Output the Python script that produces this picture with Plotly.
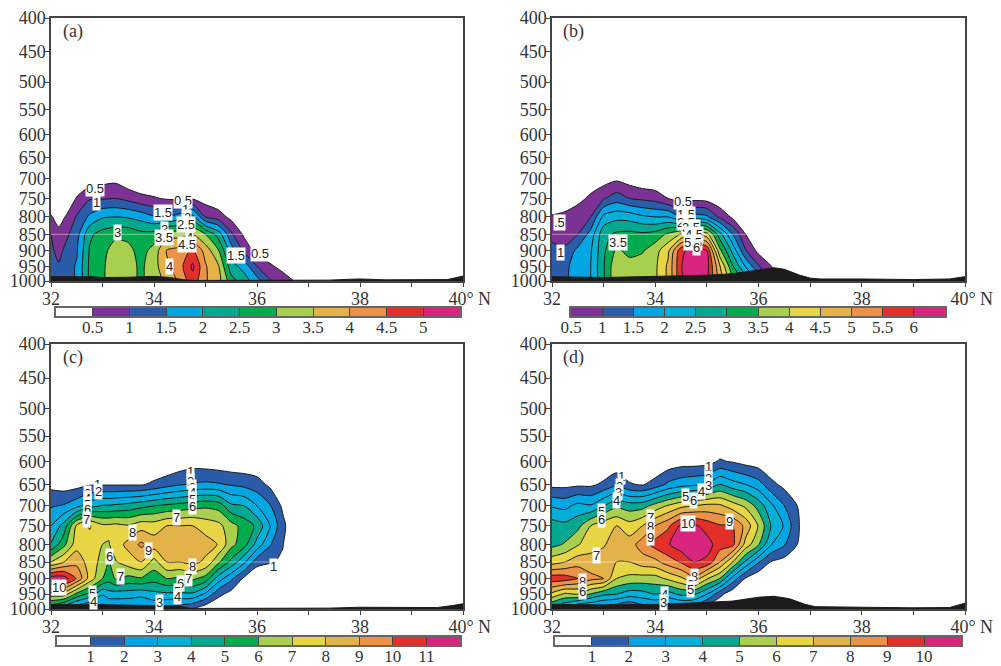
import numpy as np
import plotly.graph_objects as go

P_LEVELS = [1000, 950, 900, 850, 800, 750, 700, 650, 600, 550, 500, 450, 400]
Y_TICKS = [400, 450, 500, 550, 600, 650, 700, 750, 800, 850, 900, 950, 1000]
X_TICKS = [32, 33, 34, 35, 36, 37, 38, 39, 40]
X_TICK_TEXT = ["32", "", "34", "", "36", "", "38", "", "\u00a0\u00a0\u00a040° N"]

WHITE, PURPLE, BLUE, SKY, CYAN, TEAL, GREEN = "#ffffff", "#7b3294", "#2a5caa", "#00a6e4", "#00b0d8", "#00a88f", "#00ab4e"
LIME, YELLOW, GOLD, ORANGE, RED, MAGENTA = "#a8d04e", "#e8d545", "#e3b34a", "#ec9146", "#e32f2a", "#d9257e"

# ---- panel (a)
LON_A = [32, 32.15, 32.3, 32.5, 32.75, 33, 33.25, 33.5, 33.75, 34, 34.25, 34.5, 34.75, 35, 35.25, 35.5, 35.75, 36, 36.25, 36.5, 36.75, 37, 40]
COLS_A = [
    [1.2, 1.2, 1.1, 1.0, .55, .1], [1.2, 1.05, .85, .65, .3, 0], [1.3, 1.3, 1.15, .9, .55, .1],
    [1.55, 1.55, 1.45, 1.3, 1.05, .55], [2.6, 2.6, 2.55, 2.4, 1.6, .95, .2], [2.9, 2.9, 2.8, 2.7, 1.95, .95, .3],
    [3.4, 3.4, 3.3, 2.85, 2.0, 1.0, .35], [3.2, 3.2, 3.15, 2.85, 1.95, .85, .1], [2.9, 2.9, 2.8, 2.65, 1.8, .65],
    [3.3, 3.3, 3.2, 2.7, 1.55, .55], [3.6, 3.9, 4.05, 3.3, 1.5, .45], [4.1, 4.3, 4.2, 3.3, 1.75, .4],
    [4.8, 5.1, 4.6, 3.5, 2.2, .45], [4.05, 4.05, 3.8, 3.0, 1.0, .25], [3.7, 3.55, 3.05, 2.3, .75, .1],
    [2.7, 2.2, 1.75, 1.1, .35], [2.25, 1.8, .9, .4], [1.7, 1.0, .3], [1.05, .6, .1], [.8, .3], [.45], [0], [0],
]
COLORS_A = [WHITE, PURPLE, BLUE, SKY, TEAL, GREEN, LIME, GOLD, ORANGE, RED, MAGENTA]
TERRAIN_LON_A = [32, 32.8, 33, 33.5, 34, 34.3, 34.6, 34.8, 37.2, 37.4, 37.8, 38, 38.5, 39.3, 39.7, 39.9, 40]
TERRAIN_P_A = [985, 985, 988, 987, 984, 988, 996, 998, 998, 997, 994, 993, 996, 997, 995, 987, 983]
LABELS_A = [("0.5", 32.85, 725), ("1", 32.88, 760), ("1.5", 34.18, 788), ("0.5", 34.57, 755), ("1", 34.62, 780),
            ("2", 34.66, 802), ("2.5", 34.62, 820), ("3", 34.2, 835), ("3.5", 34.2, 860), ("4", 34.69, 860),
            ("4.5", 34.65, 880), ("3", 33.3, 845), ("4", 34.3, 950), ("1.5", 35.6, 915), ("0.5", 36.06, 910)]
FAINT_A = [32, 35.75]

# ---- panel (b)
LON_B = [32, 32.25, 32.5, 32.75, 33, 33.25, 33.5, 33.75, 34, 34.25, 34.5, 34.75, 35, 35.25, 35.5, 35.75, 36, 36.25, 36.5, 37, 40]
COLS_B = [
    [1.2, 1.2, 1.1, .9, .55, .1], [1.4, 1.35, 1.1, .8, .6, .25], [1.8, 1.8, 1.65, 1.0, .8, .35],
    [2.0, 2.0, 1.95, 1.7, 1.0, .6, .2], [2.95, 2.95, 2.9, 2.85, 2.15, .95, .25], [3.9, 3.9, 3.6, 3.1, 2.35, 1.25, .4],
    [3.8, 3.7, 3.35, 3.15, 2.3, 1.0, .25], [3.8, 3.75, 3.45, 3.1, 2.1, .9, .1], [3.9, 3.9, 3.8, 3.2, 2.0, .8, .05],
    [4.6, 4.6, 4.4, 3.6, 2.0, .5], [5.9, 5.95, 5.85, 4.05, 1.5, .3], [6.5, 6.7, 6.3, 4.5, 1.7, .35],
    [6.1, 6.2, 6.0, 4.2, 1.6, .3], [4.8, 4.55, 3.65, 2.7, .9, .1], [3.6, 3.05, 2.35, 1.5, .4], [2.9, 1.95, 1.05, .5, .15],
    [2.0, 1.05, .35], [1.0, .5, .1], [.2], [0], [0],
]
COLORS_B = [WHITE, PURPLE, BLUE, SKY, CYAN, TEAL, GREEN, LIME, YELLOW, GOLD, ORANGE, RED, MAGENTA]
TERRAIN_LON_B = [32, 33, 33.5, 34, 34.5, 35, 35.5, 36, 36.3, 36.5, 36.8, 37, 37.2, 38, 39, 39.7, 40]
TERRAIN_P_B = [985, 988, 986, 985, 983, 980, 975, 962, 955, 960, 980, 990, 993, 993, 995, 993, 985]
LABELS_B = [(".5", 32.15, 815), ("1", 32.16, 905), ("3.5", 33.28, 875), ("0.5", 34.54, 758), ("1.5", 34.6, 792),
            ("2.5", 34.6, 815), ("3.5", 34.7, 830), ("4.5", 34.76, 850), ("5.5", 34.73, 873), ("6", 34.8, 890)]
FAINT_B = [32, 35.75]

# ---- panel (c)
LON_C = [32, 32.25, 32.5, 32.75, 33, 33.125, 33.25, 33.5, 33.75, 34, 34.25, 34.5, 34.75, 35, 35.25, 35.5, 35.75, 36, 36.25, 36.5, 36.75, 40]
COLS_C = [
    [4, 7.5, 11.6, 7, 4.1, 3, 1.9, .7], [3, 7.5, 11.5, 8, 5.7, 4.4, 2.1, .5], [2, 5.7, 9.9, 8.7, 7.6, 7.2, 2.7, .6],
    [1.5, 4.7, 7.6, 7.5, 7.6, 8.1, 3.6, .9], [1.5, 3.1, 6.0, 6.7, 7.0, 7.2, 4.1, .9], [1.6, 3.6, 5.4, 5.9, 6.95, 7.2, 4.1, .9],
    [1.9, 3.5, 6.1, 6.9, 7.5, 7.3, 4.2, .9], [1.8, 3.5, 5.7, 7.5, 8.3, 7.1, 4.4, .9], [1.8, 3.3, 5.9, 8.0, 9.2, 7.6, 4.7, .9],
    [2, 3.7, 5.4, 6.6, 8.5, 7.5, 5, 1.2], [1.6, 3.8, 6, 8, 8.7, 8, 5.2, 1.6], [1.3, 3.8, 5.8, 8, 8.8, 8, 5.4, 1.9, .3],
    [.9, 3.8, 6.2, 8.3, 8.8, 8, 5.6, 2.1, .5], [.3, 2.8, 5.6, 7.8, 8.4, 7.6, 5.8, 2.2, .4], [0, 1.3, 3.5, 6.2, 7.95, 7.3, 5.6, 2.1, .3],
    [0, .6, 2.2, 4.7, 6.3, 6.4, 4.2, 1.9, .2], [0, 0, .8, 3.2, 5.4, 5.6, 4, 1.7, .2], [0, 0, 0, 1.4, 3.6, 4.8, 3, 1.4, .2],
    [0, 0, 0, 1.1, 2.1, 3, 2.1, .8], [0, 0, 0, .85, 1.05, 1.3, .8], [0], [0],
]
COLORS_C = [WHITE, BLUE, SKY, CYAN, TEAL, GREEN, LIME, YELLOW, GOLD, ORANGE, RED, MAGENTA]
TERRAIN_LON_C = [32, 33, 34, 34.5, 34.7, 37.2, 37.4, 38, 39, 39.5, 39.8, 40]
TERRAIN_P_C = [985, 985, 987, 990, 998, 998, 997, 994, 995, 995, 988, 982]
LABELS_C = [("1", 34.7, 622), ("2", 34.7, 643), ("3", 34.75, 658), ("4", 34.75, 668), ("5", 34.75, 684), ("6", 34.75, 702),
            ("1", 32.9, 650), ("2", 32.93, 667), ("3", 32.7, 670), ("4", 32.7, 682), ("5", 32.7, 696), ("6", 32.7, 708),
            ("7", 32.68, 733), ("7", 34.44, 730), ("8", 33.59, 767), ("9", 33.89, 817), ("6", 33.13, 833), ("7", 33.35, 893),
            ("8", 34.74, 864), ("7", 34.67, 900), ("6", 34.52, 915), ("5", 34.45, 940), ("4", 34.45, 957), ("10", 32.16, 928),
            ("5", 32.8, 947), ("4", 32.82, 975), ("3", 34.1, 978), ("1", 36.32, 862)]
FAINT_C = [32, 36.25]

# ---- panel (d)
LON_D = [32, 32.25, 32.5, 32.75, 33, 33.25, 33.5, 33.75, 34, 34.25, 34.5, 34.75, 35, 35.25, 35.5, 35.75, 36, 36.25, 36.5, 36.75, 37, 40]
COLS_D = [
    [3.5, 6.7, 9.6, 6.6, 4.7, 4.5, 2.9, .7], [2.7, 5.8, 9.5, 7, 5.1, 4.3, 2.7, .7], [1.5, 6, 9.0, 7.6, 5.9, 4.7, 3.3, .8],
    [1.5, 4.9, 8.3, 7.4, 6.6, 6, 3.1, .8], [1.3, 4.2, 8.0, 7.5, 6.9, 6.6, 4, 1.2], [1, 4, 6, 7, 7.5, 7, 4.8, 1.8, .2],
    [.5, 3.5, 5.7, 7, 7.5, 6.4, 4.5, 1.1], [1.3, 3.6, 5.6, 7.5, 8.5, 7, 4.6, .9], [1.4, 4, 5.6, 7.7, 9.4, 8, 5.4, 1.4],
    [1.2, 3.6, 6.2, 8.5, 9.9, 8.8, 6.1, 2.2, .3], [1.3, 4.2, 6.8, 9.1, 10.6, 10.2, 6.7, 2.6, .5], [1.2, 4.1, 7.7, 10, 10.9, 10.2, 7, 2.8, .5],
    [.3, 3, 6.1, 9.8, 10.4, 9.6, 7.3, 3, .6], [0, 1.3, 5, 8, 9.5, 9.1, 7.2, 4, 1.1], [0, .3, 2.6, 6, 9.3, 9, 6.5, 3.4, .9],
    [0, 0, .9, 3.8, 6.6, 7.7, 5.8, 3, .6], [0, 0, .2, 2.1, 5.1, 5.9, 4.6, 2.4, .4], [0, 0, 0, .9, 3, 3.9, 3.2, 1.3],
    [0, 0, 0, .6, 2.1, 2.9, 2, .7], [0, 0, 0, .2, 1, 1.2, 1], [0], [0],
]
COLORS_D = [WHITE, BLUE, SKY, CYAN, TEAL, LIME, YELLOW, GOLD, ORANGE, RED, MAGENTA]
TERRAIN_LON_D = [32, 33, 33.5, 34, 34.5, 35, 35.5, 36, 36.3, 36.6, 36.9, 37.1, 38, 39, 39.7, 40]
TERRAIN_P_D = [984, 986, 986, 984, 981, 977, 973, 960, 957, 965, 984, 992, 995, 996, 995, 980]
LABELS_D = [("1", 35.03, 612), ("2", 35.03, 637), ("3", 35.03, 652), ("4", 34.89, 667), ("5", 34.58, 677), ("6", 34.75, 688),
            ("1", 33.35, 632), ("2", 33.3, 654), ("3", 33.29, 668), ("4", 33.24, 688), ("5", 32.95, 713), ("6", 32.95, 735),
            ("7", 33.9, 730), ("8", 33.9, 751), ("9", 33.9, 782), ("10", 34.63, 745), ("9", 35.43, 738), ("7", 32.87, 830),
            ("8", 34.76, 895), ("8", 32.6, 910), ("6", 32.6, 940), ("6", 34.68, 920), ("5", 34.68, 935), ("4", 34.18, 952), ("3", 34.16, 977)]
FAINT_D = [32, 35.3]

FONT = "Liberation Serif"
OFF = 8  # the page body margin shifts the figure by this many pixels
W, H = 1001 - OFF, 666 - OFF
PANELS = [
    dict(tag="(a)", lon=LON_A, cols=COLS_A, colors=COLORS_A, start=.5, size=.5, tlon=TERRAIN_LON_A, tp=TERRAIN_P_A, labels=LABELS_A, faint=FAINT_A,
         box=(51, 463, 18, 281), bar=(56, 460, 308, 316), skip_white=False),
    dict(tag="(b)", lon=LON_B, cols=COLS_B, colors=COLORS_B, start=.5, size=.5, tlon=TERRAIN_LON_B, tp=TERRAIN_P_B, labels=LABELS_B, faint=FAINT_B,
         box=(552, 965, 18, 281), bar=(571, 945, 308, 316), skip_white=True),
    dict(tag="(c)", lon=LON_C, cols=COLS_C, colors=COLORS_C, start=1, size=1, tlon=TERRAIN_LON_C, tp=TERRAIN_P_C, labels=LABELS_C, faint=FAINT_C,
         box=(51, 463, 344, 609), bar=(57, 460, 637, 645), skip_white=False),
    dict(tag="(d)", lon=LON_D, cols=COLS_D, colors=COLORS_D, start=1, size=1, tlon=TERRAIN_LON_D, tp=TERRAIN_P_D, labels=LABELS_D, faint=FAINT_D,
         box=(552, 965, 344, 609), bar=(555, 961, 637, 645), skip_white=False),
]

fig = go.Figure()
layout = dict(width=W, height=H, margin=dict(l=0, r=0, t=0, b=0, autoexpand=False), paper_bgcolor="white", plot_bgcolor="white",
              showlegend=False, font=dict(family=FONT, size=18, color="#333333"), annotations=[], template="none")


def ref(letter, num):
    return letter if num == 1 else f"{letter}{num}"


def xdom(a, b):
    return [(a - OFF) / W, (b - OFF) / W]


def ydom(top, bottom):
    return [1 - (bottom - OFF) / H, 1 - (top - OFF) / H]


for i, p in enumerate(PANELS):
    ax = 2 * i + 1
    bx = 2 * i + 2
    xa, ya = ref("x", ax), ref("y", ax)
    xb, yb = ref("x", bx), ref("y", bx)
    n = len(p["colors"])
    scale = [[k / (n - 1), c] for k, c in enumerate(p["colors"])]
    start, size = p["start"], p["size"]
    end = start + (n - 2) * size

    grid = np.zeros((len(P_LEVELS), len(p["lon"])))
    for j, col in enumerate(p["cols"]):
        grid[: len(col), j] = col

    fig.add_trace(go.Contour(x=p["lon"], y=P_LEVELS, z=grid, xaxis=xa, yaxis=ya, colorscale=scale, showscale=False,
                             autocontour=False, contours=dict(start=start, end=end, size=size, coloring="fill"),
                             line=dict(color="#1a1a1a", width=1, smoothing=0.7), hoverinfo="skip"))
    fig.add_trace(go.Scatter(x=p["faint"], y=[850, 850], xaxis=xa, yaxis=ya, mode="lines",
                             line=dict(color="rgba(255,255,255,0.45)", width=1), hoverinfo="skip"))
    fig.add_trace(go.Scatter(x=[p["tlon"][0]] + p["tlon"] + [p["tlon"][-1]], y=[1000] + p["tp"] + [1000], xaxis=xa, yaxis=ya,
                             mode="lines", fill="toself", fillcolor="#1c1a1b", line=dict(color="#1c1a1b", width=1), hoverinfo="skip"))

    l, r, t, b = p["box"]
    layout[f"xaxis{ax}"] = dict(domain=xdom(l, r), range=[32, 40], anchor=ya, tickvals=X_TICKS, ticktext=X_TICK_TEXT, automargin=False,
                                ticks="outside", ticklen=4, ticklabelstandoff=-3, tickcolor="#444444", showline=True, linecolor="#444444", linewidth=1.5,
                                mirror=True, showgrid=False, zeroline=False, tickfont=dict(family=FONT, size=18, color="#333333"))
    layout[f"yaxis{ax}"] = dict(domain=ydom(t, b), type="log", range=[3, float(np.log10(400))], anchor=xa, automargin=False,
                                tickvals=Y_TICKS, ticktext=[str(v) for v in Y_TICKS], ticks="outside", ticklen=4, ticklabelstandoff=-4, tickcolor="#444444",
                                showline=True, linecolor="#444444", linewidth=1.5, mirror=True, showgrid=False, zeroline=False,
                                tickfont=dict(family=FONT, size=18, color="#333333"))

    first = 1 if p["skip_white"] else 0
    edges = [start - size + k * size for k in range(first, n + 1)]
    mids = [(edges[k] + edges[k + 1]) / 2 for k in range(len(edges) - 1)]
    fig.add_trace(go.Heatmap(x=edges, y=[0, 1], z=[mids], xaxis=xb, yaxis=yb, colorscale=scale, showscale=False,
                             zmin=start - size / 2, zmax=end + size / 2, hoverinfo="skip"))
    bl, br, bt, bb = p["bar"]
    tick_vals = [start + k * size for k in range(n - 1)]
    layout[f"xaxis{bx}"] = dict(domain=xdom(bl, br), range=[edges[0], edges[-1]], anchor=yb, tickvals=tick_vals, automargin=False,
                                ticktext=[f"{v:g}" for v in tick_vals], ticks="inside", ticklen=8, tickwidth=1, tickcolor="#444444",
                                ticklabelstandoff=-5, showline=True, linecolor="#666666", linewidth=1.5,
                                mirror=True, showgrid=False, zeroline=False, tickfont=dict(family=FONT, size=17, color="#333333"))
    layout[f"yaxis{bx}"] = dict(domain=ydom(bt, bb), range=[0, 1], anchor=xb, showticklabels=False, ticks="", showline=True,
                                automargin=False, linecolor="#666666", linewidth=1.5, mirror=True, showgrid=False, zeroline=False)

    for text, lon, prs in p["labels"]:
        layout["annotations"].append(dict(x=lon, y=float(np.log10(prs)), xref=xa, yref=ya, text=text, showarrow=False, bgcolor="white",
                                          borderpad=0, font=dict(family="Liberation Sans", size=13, color="#222222")))
    layout["annotations"].append(dict(x=.053, y=.95, xref=f"{xa} domain", yref=f"{ya} domain", text=p["tag"], showarrow=False,
                                      xanchor="center", yanchor="middle", font=dict(family=FONT, size=18, color="#333333")))

fig.update_layout(**layout)
fig.write_html("out.html")
